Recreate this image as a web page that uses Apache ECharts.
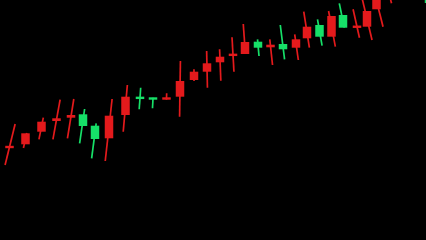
<!DOCTYPE html>
<html>
<head>
<meta charset="utf-8">
<script src="https://cdn.jsdelivr.net/npm/echarts@6/dist/echarts.min.js"></script>
<style>
html,body{margin:0;padding:0;background:#000;}
#chart{width:426px;height:240px;}
</style>
</head>
<body>
<div id="chart"></div>
<script>
// Candle times (horizontal position on the time axis)
const times = [9.5, 25.5, 41.5, 56.5, 71, 83, 95, 109, 125.5, 140, 153, 166.5, 180, 194, 207, 220, 233, 245, 258, 270.5, 283, 296, 307, 319.5, 331.5, 343, 357, 367, 376.5, 388, 429];
const opens  = [92, 95.7, 108.3, 119, 122.3, 125.7, 114.3, 101.7, 125, 143.3, 142.3, 140.3, 143.3, 160, 168.3, 177.7, 184.3, 186, 198.3, 192.7, 196, 192.3, 201.7, 215, 203.3, 225, 212.5, 213.3, 230.7, 245, 250];
const closes = [94, 106.7, 118.3, 121.7, 125, 114, 101, 124.3, 143.3, 141, 140.7, 142.7, 159, 168.3, 176.7, 183.3, 186, 198, 192.3, 195.3, 190.7, 200.7, 213.3, 203.3, 224, 212.3, 214, 229, 248, 255, 237];
const lows   = [75, 92, 100.7, 100.7, 101.7, 96.7, 81.7, 79, 108.3, 130.7, 131.7, 140.3, 123.3, 159, 152.3, 159.3, 168.3, 186, 184, 175, 180.7, 180, 192.3, 194.3, 193.3, 212.3, 202.3, 200, 213.3, 236.7, 232];
const highs  = [116, 107, 122.3, 140.3, 141, 131, 116.7, 141, 155, 152.3, 142.3, 146.7, 179, 170.7, 189, 190.7, 202.7, 216, 200.7, 200.7, 215, 205.7, 228.3, 220.7, 229, 236.7, 230.7, 248, 262, 270, 255];

const RED = '#e41a1c';
const GREEN = '#16e068';

const rows = times.map((t, i) => [t, opens[i], closes[i], lows[i], highs[i]]);

const chart = echarts.init(document.getElementById('chart'), null, {renderer: 'canvas'});

function renderItem(params, api) {
  const t = api.value(0), o = api.value(1), c = api.value(2), l = api.value(3), h = api.value(4);
  const pO = api.coord([t, o]), pC = api.coord([t, c]);
  const pL = api.coord([t, l]), pH = api.coord([t, h]);
  const cx = pO[0];
  let top = Math.min(pO[1], pC[1]);
  let bot = Math.max(pO[1], pC[1]);
  if (bot - top < 2.4) { const m = (top + bot) / 2; top = m - 1.2; bot = m + 1.2; }
  const cy = (top + bot) / 2;
  const s = (191 - cx) / 740; // lens lean of the wicks
  const color = c >= o ? RED : GREEN;
  const w = 8.5;
  return {
    type: 'group',
    children: [
      {
        type: 'line',
        shape: {x1: cx + s * (cy - pL[1]), y1: pL[1], x2: cx + s * (cy - pH[1]), y2: pH[1]},
        style: {stroke: color, lineWidth: 1.7}
      },
      {
        type: 'rect',
        shape: {x: cx - w / 2, y: top, width: w, height: bot - top},
        style: {fill: color}
      }
    ]
  };
}

chart.setOption({
  backgroundColor: '#000',
  animation: false,
  grid: {left: 0, right: 0, top: 0, bottom: 0},
  xAxis: {type: 'value', min: 0, max: 426, show: false},
  yAxis: {type: 'value', min: 0, max: 240, show: false},
  series: [{
    type: 'custom',
    renderItem: renderItem,
    data: rows,
    encode: {x: 0, y: [1, 2, 3, 4]},
    clip: true
  }]
});
</script>
</body>
</html>
